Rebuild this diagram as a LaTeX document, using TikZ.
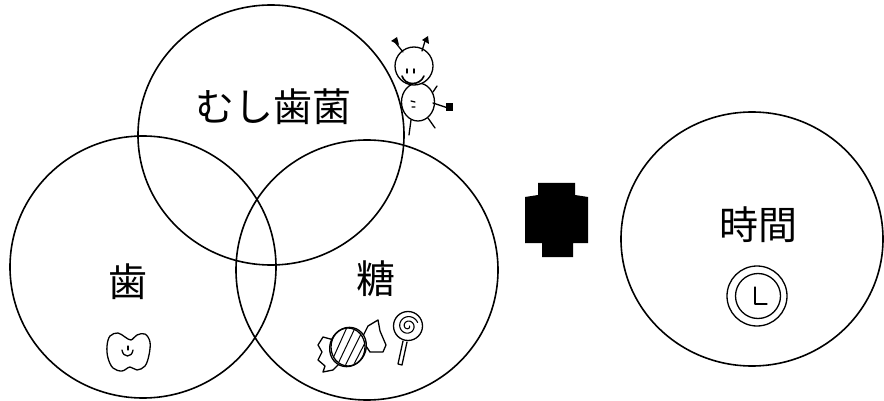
\documentclass[tikz,border=0pt]{standalone}
\usepackage{fontspec}
\newfontfamily\jp{Noto Sans CJK JP}
\usetikzlibrary{shapes.geometric}
\begin{document}
\begin{tikzpicture}[x=1pt,y=-1pt,
  ring/.style={draw=black, line width=1.6pt, ellipse, inner sep=0pt},
  label/.style={font=\jp\fontsize{39}{42}\selectfont, inner sep=0pt, anchor=center},
  pen/.style={draw=black, line width=1.3pt, line cap=round, line join=round},
  ink/.style={fill=black}]
\useasboundingbox (0,0) rectangle (884,401);
\fill[white] (0,0) rectangle (884,401);

% the three overlapping sets
\node[ring, minimum width=266pt, minimum height=260pt] (germ)  at (271,135) {};
\node[ring, minimum width=266pt, minimum height=262pt] (tooth) at (143,267) {};
\node[ring, minimum width=262pt, minimum height=260pt] (sugar) at (367,270) {};

% the separate set
\node[ring, minimum width=262pt, minimum height=254pt] (time)  at (752,239) {};

% set names
\node[label] (germtxt)  at (273,107) {むし歯菌};
\node[label] (toothtxt) at (128,282) {歯};
\node[label] (sugartxt) at (376,279) {糖};
\node[label] (timetxt)  at (758,225) {時間};

% heavy plus sign between the groups
\fill[black] (538,183) -- (575,183) -- (575,195) -- (588,197) -- (588,243)
  -- (573,243) -- (573,257) -- (542,257) -- (542,243) -- (525,243)
  -- (525,197) -- (538,195) -- cycle;

% little germ creature on the edge of the germ set
\node[pen, ellipse, minimum width=33pt, minimum height=38pt, inner sep=0pt] (body) at (418,102) {};
\node[pen, circle, fill=white, minimum size=38pt, inner sep=0pt] (head) at (414,66) {};
\draw[pen] (403,52) -- (395,42);
\fill[black] (391,41) -- (397,37) -- (399,45) -- cycle;
\draw[pen] (422,51) -- (425,41);
\fill[black] (422,40) -- (428,36) -- (429,44) -- cycle;
\draw[pen, line width=1.5pt] (407,69) -- (407,73) (414,69) -- (414,73);
\draw[pen, line width=1.6pt] (402,76) .. controls (405,86) and (420,86) .. (424,76);
\draw[pen] (411,101) -- (415,102) (412,107) -- (415,107);
\draw[pen] (433,103) -- (448,108);
\fill[black] (446,103) rectangle (453,111);
\draw[pen] (433,92) -- (437,86);
\draw[pen] (411,120) -- (409,135);
\draw[pen] (428,118) -- (435,128);

% tooth icon
\draw[pen] plot[smooth cycle, tension=0.6] coordinates {
  (110,336) (118,333) (125,337) (131,340) (137,335) (145,334) (150,342)
  (149,355) (145,366) (137,370) (130,367) (122,371) (113,368) (108,358) (107,346)};
\draw[pen] (122,350) .. controls (123,358) and (132,358) .. (133,350);
\draw[pen] (128,346) -- (128,350);

% wrapped candy
\draw[pen] (334,340) -- (323,337) -- (318,345) -- (322,352) -- (318,360)
  -- (325,366) -- (323,372) -- (333,370) -- (340,363);
\draw[pen] (363,336) -- (368,326) -- (378,320) -- (380,331) -- (386,345)
  -- (383,352) -- (370,352) -- (366,346);
\node[pen, ellipse, rotate=-25, minimum width=36pt, minimum height=40pt, inner sep=0pt, fill=white] (sweet) at (348,347) {};
\begin{scope}
  \clip (348,347) circle (18);
  \draw[pen, line width=1pt] (330,365) -- (348,325) (336,368) -- (356,326)
    (343,370) -- (363,330) (350,372) -- (369,335);
\end{scope}
\draw[pen] (348,347) ellipse (17 and 19);

% lollipop
\draw[pen] (403,341) -- (398,364) -- (402,365) -- (407,342);
\node[pen, circle, minimum size=29pt, inner sep=0pt] (pop) at (408,326) {};
\draw[pen, line width=1.1pt] plot[domain=0:700, samples=70, smooth]
  ({408+(1.5+\x/80)*cos(\x)}, {326+(1.5+\x/80)*sin(\x)});

% clock icon
\node[pen, circle, minimum size=60pt, inner sep=0pt] (clockout) at (757,296) {};
\node[pen, circle, minimum size=45pt, inner sep=0pt] (clockin) at (758,296) {};
\draw[pen] (755,287) -- (755,304) -- (767,304);
\end{tikzpicture}
\end{document}
